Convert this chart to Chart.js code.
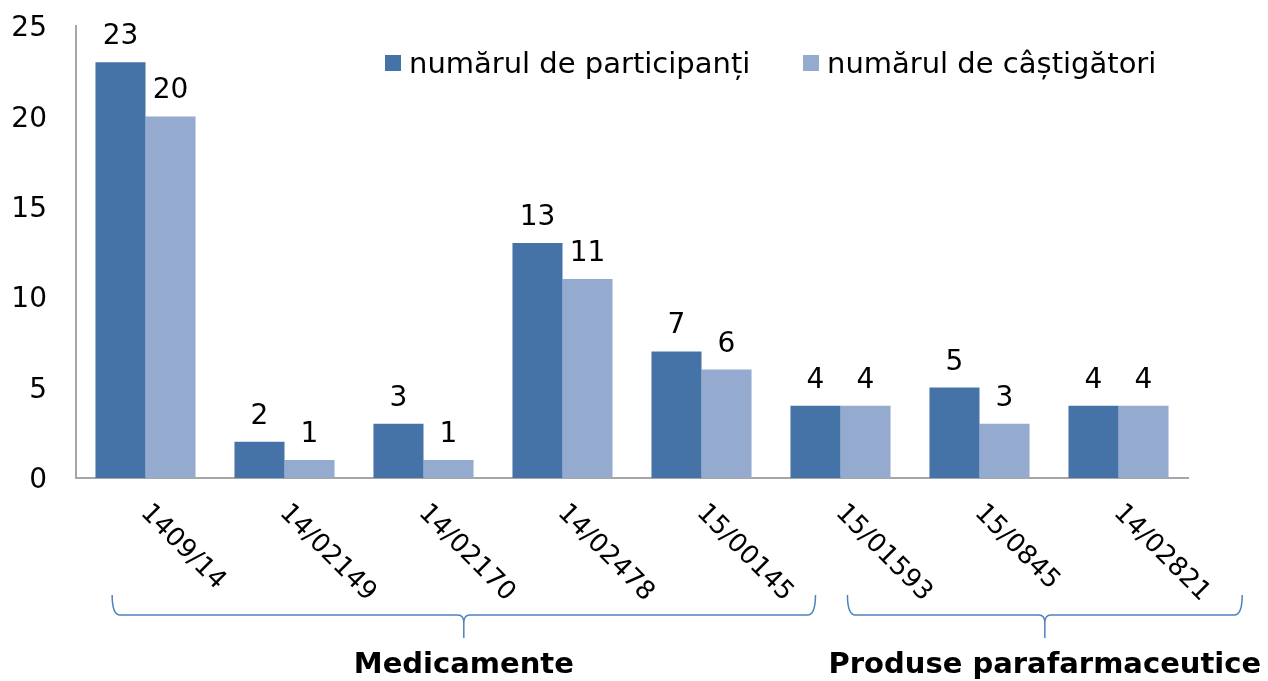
<!DOCTYPE html>
<html>
<head>
<meta charset="utf-8">
<script src="https://cdn.jsdelivr.net/npm/chart.js@4/dist/chart.umd.min.js"></script>
<style>
  body { margin: 0; background: #fff; }
  canvas { display: block; }
</style>
</head>
<body>
<canvas id="chart" width="1268" height="681"></canvas>
<script>
const categories = ['1409/14', '14/02149', '14/02170', '14/02478', '15/00145', '15/01593', '15/0845', '14/02821'];
const participanti = [23, 2, 3, 13, 7, 4, 5, 4];
const castigatori = [20, 1, 1, 11, 6, 4, 3, 4];
const seriesNames = ['numărul de participanți', 'numărul de câștigători'];
const groups = ['Medicamente', 'Produse parafarmaceutice'];

const FONT = '"DejaVu Sans", Verdana, sans-serif';

// values above bars, rotated x labels, legend and group brackets
const extras = {
  id: 'extras',
  afterDatasetsDraw(chart) {
    const ctx = chart.ctx;
    const x = chart.scales.x;
    ctx.save();
    ctx.fillStyle = '#000';
    ctx.font = '28px ' + FONT;
    ctx.textAlign = 'center';
    ctx.textBaseline = 'alphabetic';
    chart.data.datasets.forEach((ds, di) => {
      chart.getDatasetMeta(di).data.forEach((bar, i) => {
        ctx.fillText(String(ds.data[i]), bar.x, bar.y - 18);
      });
    });

    // legend
    const lx = [385, 803];
    ctx.font = '29px ' + FONT;
    chart.data.datasets.forEach((ds, di) => {
      ctx.fillStyle = ds.backgroundColor;
      ctx.fillRect(lx[di], 55, 16, 16);
      ctx.fillStyle = '#000';
      ctx.textAlign = 'left';
      ctx.fillText(ds.label, lx[di] + 24, 73);
    });

    // x labels, going down to the right
    ctx.font = '26px ' + FONT;
    ctx.textAlign = 'left';
    ctx.textBaseline = 'middle';
    categories.forEach((c, i) => {
      const px = x.getPixelForValue(i);
      ctx.save();
      ctx.translate(px - 1, 509);
      ctx.rotate(Math.PI / 4);
      ctx.fillText(c, 0, 0);
      ctx.restore();
    });

    // brackets
    const w = x.getPixelForValue(1) - x.getPixelForValue(0);
    const spans = [
      [x.getPixelForValue(0) - 0.24 * w, x.getPixelForValue(4) + 0.82 * w],
      [x.getPixelForValue(5) + 0.05 * w, x.getPixelForValue(7) + 0.89 * w]
    ];
    ctx.strokeStyle = '#4F81BD';
    ctx.lineWidth = 1.5;
    const yTop = 595, yLine = 615, yTip = 638;
    spans.forEach(([a, b], gi) => {
      const m = (a + b) / 2;
      ctx.beginPath();
      ctx.moveTo(a, yTop);
      ctx.quadraticCurveTo(a, yLine, a + 8, yLine);
      ctx.lineTo(m - 6, yLine);
      ctx.quadraticCurveTo(m, yLine, m, yLine + 8);
      ctx.lineTo(m, yTip);
      ctx.moveTo(m, yLine + 8);
      ctx.quadraticCurveTo(m, yLine, m + 6, yLine);
      ctx.lineTo(b - 8, yLine);
      ctx.quadraticCurveTo(b, yLine, b, yTop);
      ctx.stroke();

      ctx.fillStyle = '#000';
      ctx.font = 'bold 29px ' + FONT;
      ctx.textAlign = 'center';
      ctx.textBaseline = 'middle';
      ctx.fillText(groups[gi], m, 665);
    });
    ctx.restore();
  }
};

new Chart(document.getElementById('chart'), {
  type: 'bar',
  data: {
    labels: categories,
    datasets: [
      { label: seriesNames[0], data: participanti, backgroundColor: '#4673A7' },
      { label: seriesNames[1], data: castigatori, backgroundColor: '#95AACF' }
    ]
  },
  options: {
    responsive: false,
    animation: false,
    layout: { padding: { top: 26, right: 80, bottom: 0, left: 0 } },
    datasets: { bar: { categoryPercentage: 0.72, barPercentage: 1 } },
    plugins: { legend: { display: false }, tooltip: { enabled: false } },
    scales: {
      x: {
        grid: { display: false },
        border: { display: true, color: '#A6A6A6', width: 2 },
        ticks: { display: false },
        afterFit(s) { s.height = 203; s.paddingLeft = 0; s.paddingRight = 0; }
      },
      y: {
        min: 0, max: 25,
        grid: { display: false, drawTicks: false },
        border: { display: true, color: '#A6A6A6', width: 2 },
        ticks: { stepSize: 5, padding: 29, labelOffset: 3, color: '#000', font: { family: FONT, size: 28 } },
        afterFit(s) { s.width = 76; s.paddingTop = 0; s.paddingBottom = 0; }
      }
    }
  },
  plugins: [extras]
});
</script>
</body>
</html>
